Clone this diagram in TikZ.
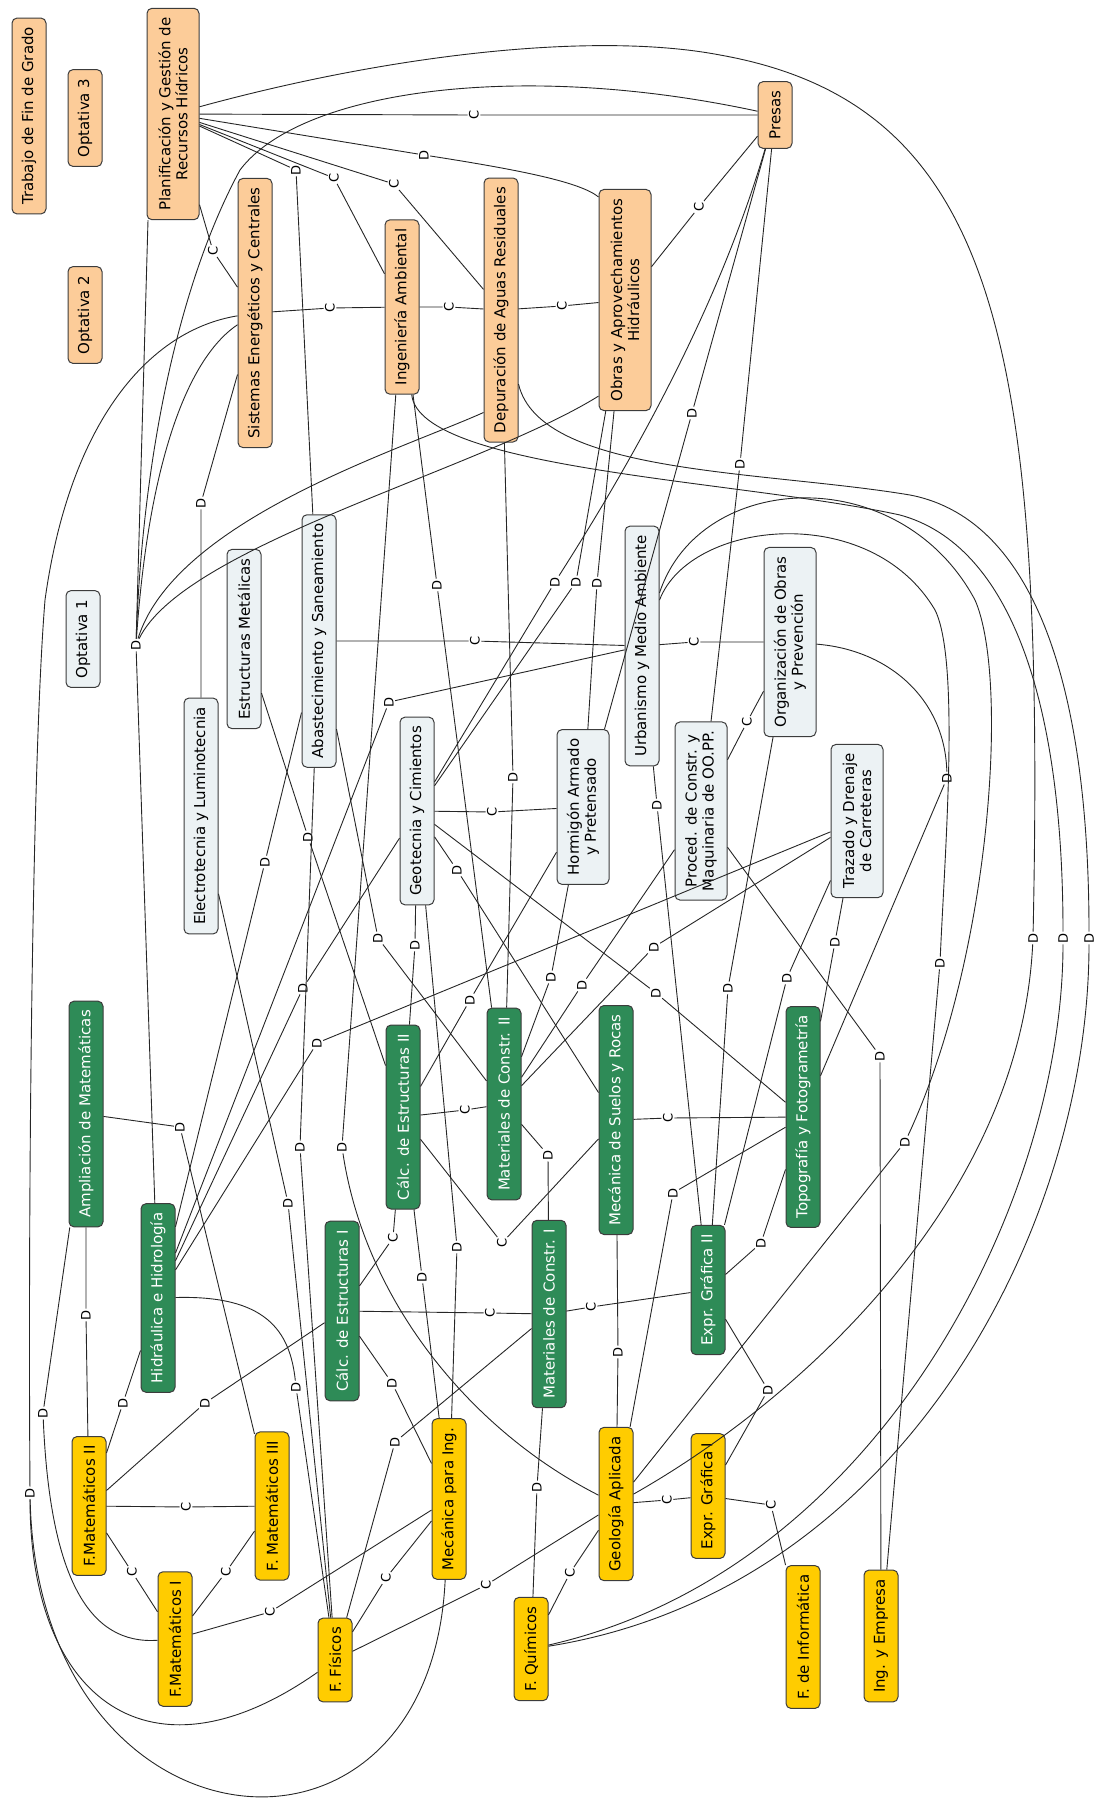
\documentclass[tikz,border=0pt]{standalone}
\usepackage{fontspec}
\setmainfont{DejaVu Sans}
\usetikzlibrary{positioning}

\definecolor{orangebox}{RGB}{252,204,153}
\definecolor{greybox}{RGB}{236,242,244}
\definecolor{greenbox}{RGB}{46,139,87}
\definecolor{yellowbox}{RGB}{255,204,0}
\definecolor{framegrey}{RGB}{60,60,60}

\tikzset{
  subj/.style={draw=framegrey, line width=1pt, rounded corners=5pt, rotate=90, align=center,
    inner xsep=9pt, inner ysep=3pt, minimum height=34pt, font=\fontsize{15}{17}\selectfont},
  two/.style={minimum height=52pt},
  orng/.style={subj, fill=orangebox},
  gry/.style={subj, fill=greybox},
  grn/.style={subj, fill=greenbox, text=white},
  ylw/.style={subj, fill=yellowbox},
  lab/.style={rotate=90, inner sep=1.2pt, font=\fontsize{13}{14}\selectfont},
  rel/.style={draw=black!85, line width=0.9pt}
}

\begin{document}
\begin{tikzpicture}[x=1pt,y=1pt]
\useasboundingbox (0,0) rectangle (1097,-1805);

% subjects
\node[orng] (tfg) at (29,-116) {Trabajo de Fin de Grado};
\node[orng] (opt3) at (85,-118) {Optativa 3};
\node[orng,two] (pgrh) at (173,-114) {Planificación y Gestión de\\Recursos Hídricos};
\node[orng] (opt2) at (85,-315) {Optativa 2};
\node[orng] (sec) at (255,-313) {Sistemas Energéticos y Centrales};
\node[orng] (ia) at (402,-307) {Ingeniería Ambiental};
\node[orng] (dar) at (501,-310) {Depuración de Aguas Residuales};
\node[orng,two] (oah) at (625,-300) {Obras y Aprovechamientos\\Hidráulicos};
\node[orng] (presas) at (775,-115) {Presas};
\node[gry] (opt1) at (83,-639) {Optativa 1};
\node[gry] (el) at (201,-816) {Electrotecnia y Luminotecnia};
\node[gry] (em) at (244,-639) {Estructuras Metálicas};
\node[gry] (as) at (319,-641) {Abastecimiento y Saneamiento};
\node[gry] (gc) at (417,-811) {Geotecnia y Cimientos};
\node[gry,two] (hap) at (583,-807) {Hormigón Armado\\y Pretensado};
\node[gry] (uma) at (642,-646) {Urbanismo y Medio Ambiente};
\node[gry,two] (pcm) at (701,-811) {Proced. de Constr. y\\Maquinaria de OO.PP.};
\node[gry,two] (oop) at (790,-642) {Organización de Obras\\y Prevención};
\node[gry,two] (tdc) at (857,-821) {Trazado y Drenaje\\de Carreteras};
\node[grn] (am) at (86,-1114) {Ampliación de Matemáticas};
\node[grn] (hh) at (158,-1298) {Hidráulica e Hidrología};
\node[grn] (ce2) at (403,-1117) {Cálc. de Estructuras II};
\node[grn] (mc2) at (504,-1104) {Materiales de Constr. II};
\node[grn] (ce1) at (342,-1311) {Cálc. de Estructuras I};
\node[grn] (msr) at (616,-1120) {Mecánica de Suelos y Rocas};
\node[grn] (tf) at (803,-1117) {Topografía y Fotogrametría};
\node[grn] (mc1) at (549,-1314) {Materiales de Constr. I};
\node[grn] (eg2) at (708,-1290) {Expr. Gráfica II};
\node[ylw] (fm2) at (89,-1506) {F.Matemáticos II};
\node[ylw] (fm1) at (175,-1639) {F.Matemáticos I};
\node[ylw] (fm3) at (272,-1506) {F. Matemáticos III};
\node[ylw] (ff) at (335,-1660) {F. Físicos};
\node[ylw] (mpi) at (449,-1499) {Mecánica para Ing.};
\node[ylw] (fq) at (531,-1649) {F. Químicos};
\node[ylw] (ga) at (616,-1504) {Geología Aplicada};
\node[ylw] (eg1) at (708,-1496) {Expr. Gráfica I};
\node[ylw] (fi) at (803,-1637) {F. de Informática};
\node[ylw] (ie) at (881,-1636) {Ing. y Empresa};

% link labels
\foreach \n/\t/\x/\y in {c1/C/474/115,d1/D/424/155,d2/D/296/170,c2/C/334/178,c3/C/394/184,
  c4/C/213/251,c5/C/330/308,c6/C/449/307,c7/C/562/306,c8/C/699/207,d3/D/692/413,d4/D/740/464,
  d5/D/201/503,d6/D/136/645,d7/D/437/585,d8/D/555/582,d9/D/576/582,d10/D/597/583,c9/C/475/641,
  c10/C/694/642,d11/D/389/702,d12/D/513/777,c11/C/492/812,d13/D/657/805,c12/C/747/722,
  d14/D/947/778,d15/D/308/837,d16/D/265/862,d17/D/457/870,d18/D/378/938,d19/D/415/945,
  d20/D/303/988,d21/D/470/1000,d22/D/551/977,d23/D/582/985,d24/D/654/947,d25/D/656/993,
  d26/D/728/988,d27/D/787/978,d28/D/835/942,d29/D/940/963,d30/D/1033/938,d31/D/1063/938,
  d32/D/1089/938,d33/D/880/1056,d34/D/317/1043,d35/D/905/1142,d36/D/180/1127,d37/D/300/1147,
  d38/D/342/1147,d39/D/288/1203,c13/C/465/1110,c14/C/668/1118,d40/D/548/1155,c15/C/393/1238,
  c16/C/502/1243,d41/D/457/1247,d42/D/422/1277,d43/D/673/1193,d44/D/761/1243,c17/C/490/1313,
  c18/C/591/1307,d45/D/86/1315,d46/D/618/1352,d47/D/392/1383,d48/D/296/1387,d49/D/768/1390,
  d50/D/123/1403,d51/D/205/1403,d52/D/43/1413,d53/D/395/1442,d54/D/537/1487,d55/D/30/1493,
  c19/C/186/1507,c20/C/667/1500,c21/C/771/1505,c22/C/132/1572,c23/C/226/1572,c24/C/386/1578,
  c25/C/486/1585,c26/C/570/1573,c27/C/270/1612}
  \node[lab] (\n) at (\x,-\y) {\t};

% straight links
\foreach \a/\l/\b in {pgrh/c1/presas,pgrh/d2/as,pgrh/c2/ia,pgrh/c3/dar,pgrh/c4/sec,sec/c5/ia,
  ia/c6/dar,dar/c7/oah,oah/c8/presas,presas/d3/hap,presas/d4/pcm,sec/d5/el,ia/d7/mc2,
  oah/d9/gc,oah/d10/hap,as/c9/uma,uma/c10/oop,uma/d11/hh,dar/d12/mc2,gc/c11/hap,uma/d13/eg2,
  pcm/c12/oop,em/d15/ce2,as/d16/hh,gc/d17/msr,as/d18/mc2,gc/d19/ce2,gc/d20/hh,hap/d21/ce2,
  hap/d22/mc2,pcm/d23/mc2,tdc/d24/mc2,gc/d25/tf,oop/d26/eg2,tdc/d27/eg2,tdc/d28/tf,pcm/d33/ie,
  tdc/d34/hh,am/d36/fm3,as/d37/ff,el/d39/ff,ce2/c13/mc2,msr/c14/tf,mc2/d40/mc1,ce1/c15/ce2,
  ce2/c16/msr,gc/d41/mpi,ce2/d42/mpi,tf/d43/ga,tf/d44/eg2,ce1/c17/mc1,mc1/c18/eg2,am/d45/fm2,
  msr/d46/ga,ce1/d47/mpi,eg2/d49/eg1,hh/d50/fm2,ce1/d51/fm2,mc1/d53/ff,mc1/d54/fq,fm2/c19/fm3,
  ga/c20/eg1,eg1/c21/fi,fm2/c22/fm1,fm1/c23/fm3,ff/c24/mpi,ff/c25/ga,fq/c26/ga,fm1/c27/mpi}
  \draw[rel] (\a) -- (\l) -- (\b);

% curved links
\draw[rel] (pgrh) -- (d1);
\draw[rel] (d1) .. controls (520,-170) and (580,-182) .. ([yshift=-8pt]oah.north east);
\draw[rel] (hh) -- (d6);
\draw[rel] (d6) -- ([xshift=-25pt]pgrh.west);
\draw[rel] (d6) .. controls (142,-470) and (175,-290) .. (240,-170) .. controls (300,-90) and (520,-60) .. (presas);
\draw[rel] (d6) .. controls (148,-470) and (185,-360) .. (sec);
\draw[rel] (d6) .. controls (175,-520) and (400,-450) .. ([yshift=30pt]dar.north west);
\draw[rel] (d6) .. controls (185,-545) and (480,-470) .. ([yshift=15pt]oah.north west);
\draw[rel] (sec) .. controls (150,-330) and (70,-420) .. (45,-600) .. controls (32,-760) and (28,-1200) .. (d55);
\draw[rel] (d55) .. controls (30,-1700) and (150,-1790) .. (ff);
\draw[rel] (d55) .. controls (38,-1860) and (430,-1900) .. (mpi);
\draw[rel] (am) -- (d52);
\draw[rel] (d52) .. controls (50,-1580) and (90,-1645) .. (fm1);
\draw[rel] (hh) .. controls (265,-1295) and (290,-1330) .. (d48);
\draw[rel] (d48) -- (ff);
\draw[rel] (ia) -- (d38);
\draw[rel] (d38) .. controls (365,-1300) and (470,-1430) .. (ga);
\draw[rel] (presas) .. controls (715,-320) and (620,-480) .. (d8);
\draw[rel] (d8) -- (gc);
\draw[rel] (pgrh) .. controls (400,-52) and (600,-32) .. (720,-55) .. controls (1000,-105) and (1045,-350) .. (d30);
\draw[rel] (d30) .. controls (1020,-1200) and (800,-1400) .. (ga);
\draw[rel] (ia) .. controls (420,-470) and (740,-480) .. (900,-515) .. controls (1010,-545) and (1063,-700) .. (d31);
\draw[rel] (d31) .. controls (1063,-1200) and (880,-1570) .. (fq);
\draw[rel] (dar) .. controls (540,-475) and (760,-470) .. (910,-495) .. controls (1040,-520) and (1089,-700) .. (d32);
\draw[rel] (d32) .. controls (1089,-1230) and (900,-1590) .. (fq);
\draw[rel] (uma) .. controls (690,-520) and (870,-500) .. (935,-610) .. controls (960,-660) and (945,-850) .. (d29);
\draw[rel] (d29) -- (ie);
\draw[rel] (uma) .. controls (700,-470) and (900,-460) .. (975,-600) .. controls (1010,-680) and (990,-960) .. (d35);
\draw[rel] (d35) -- (ga);
\draw[rel] (oop) .. controls (890,-650) and (945,-700) .. (d14);
\draw[rel] (d14) -- (tf);
\end{tikzpicture}
\end{document}
